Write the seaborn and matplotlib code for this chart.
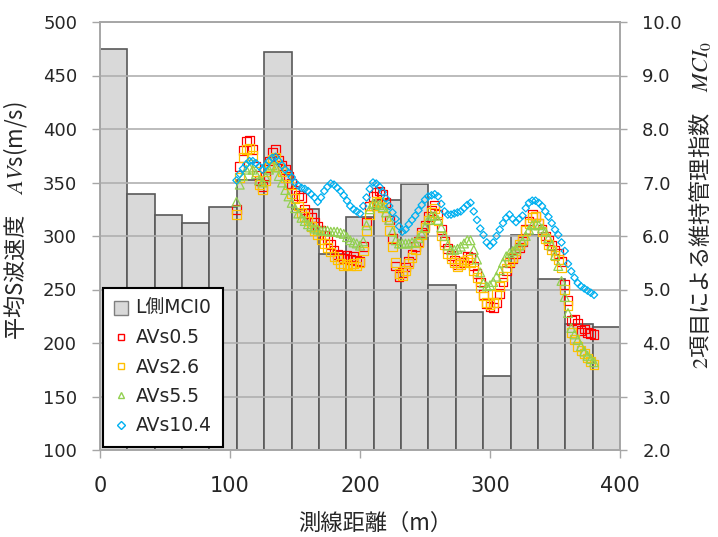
import numpy as np
import matplotlib
matplotlib.use("Agg")
import matplotlib.pyplot as plt
import seaborn as sns
from matplotlib.lines import Line2D

# L側 MCI0, 19 sections over 0-400 m (right axis)
mci = [9.50, 6.79, 6.39, 6.25, 6.54, 7.05, 9.44, 6.51, 5.67, 6.36,
       6.67, 6.97, 5.08, 4.58, 3.38, 6.02, 5.20, 4.36, 4.30]
edges = np.linspace(0, 400, len(mci) + 1)

# measuring points along the line (m)
dist = np.arange(105, 381, 2.5)

avs05 = [325, 365, 380, 388, 389, 381, 365, 352, 346, 356,
         370, 378, 381, 371, 366, 362, 356, 349, 343, 338,
         336, 325, 321, 317, 313, 309, 305, 301, 297, 292,
         287, 283, 282, 279, 282, 278, 281, 277, 276, 290,
         313, 328, 337, 341, 342, 339, 331, 315, 298, 272,
         262, 266, 271, 276, 283, 290, 295, 303, 310, 318,
         324, 329, 320, 306, 295, 288, 282, 277, 273, 275,
         276, 281, 280, 272, 265, 257, 245, 237, 234, 233,
         238, 246, 257, 268, 275, 279, 284, 289, 295, 306,
         314, 320, 318, 312, 306, 300, 296, 291, 287, 284,
         276, 255, 240, 221, 222, 218, 212, 213, 210, 209,
         208]
avs26 = [320, 355, 373, 381, 382, 375, 360, 348, 343, 352,
         365, 372, 373, 365, 360, 355, 348, 340, 335, 328,
         322, 318, 314, 309, 305, 301, 297, 293, 289, 285,
         281, 278, 274, 272, 273, 272, 274, 272, 275, 286,
         305, 320, 328, 332, 331, 327, 318, 305, 290, 275,
         265, 263, 268, 274, 280, 287, 294, 301, 308, 315,
         322, 326, 314, 300, 292, 284, 279, 275, 271, 273,
         276, 278, 275, 268, 261, 252, 244, 238, 236, 238,
         245, 253, 262, 270, 276, 280, 286, 292, 297, 305,
         312, 317, 318, 312, 304, 298, 292, 287, 282, 278,
         270, 250, 235, 210, 203, 197, 193, 190, 186, 183,
         180]
avs55 = [332, 348, 356, 362, 364, 362, 358, 352, 350, 355,
         362, 366, 364, 356, 350, 343, 337, 331, 326, 321,
         317, 314, 311, 309, 307, 306, 305, 305, 305, 304,
         304, 304, 303, 302, 299, 296, 294, 293, 291, 295,
         310, 325, 330, 330, 329, 327, 322, 315, 304, 296,
         293, 293, 293, 293, 294, 294, 298, 302, 308, 315,
         319, 319, 315, 308, 300, 291, 287, 287, 288, 290,
         293, 296, 296, 287, 278, 266, 256, 253, 254, 257,
         262, 268, 275, 281, 284, 286, 288, 291, 295, 300,
         306, 310, 311, 310, 307, 304, 298, 291, 282, 272,
         258, 243, 228, 214, 208, 203, 197, 192, 188, 185,
         182]
avs104 = [352, 358, 363, 367, 370, 370, 368, 365, 362, 366,
          370, 373, 374, 370, 366, 362, 359, 355, 350, 347,
          345, 344, 342, 339, 336, 332, 336, 342, 346, 349,
          348, 345, 342, 338, 333, 328, 325, 323, 321, 328,
          336, 344, 350, 349, 346, 341, 335, 328, 322, 316,
          309, 304, 306, 311, 315, 319, 324, 329, 334, 337,
          338, 339, 337, 330, 323, 320, 320, 321, 322, 323,
          326, 329, 331, 323, 315, 307, 301, 294, 291, 294,
          300, 306, 312, 317, 320, 316, 313, 316, 319, 326,
          331, 333, 333, 331, 328, 323, 318, 312, 306, 301,
          294, 286, 274, 267, 261, 256, 253, 251, 249, 247,
          245]

labels = ["AVs0.5", "AVs2.6", "AVs5.5", "AVs10.4"]
colors = ["#ff0000", "#ffc000", "#92d050", "#00b0f0"]
markers = ["s", "s", "^", "D"]
sizes = [40, 40, 40, 14]

sns.set_theme(style="white")
plt.rcParams['font.family'] = ['DejaVu Sans', 'Noto Sans CJK JP']
plt.rcParams['mathtext.fontset'] = 'stix'

fig = plt.figure(figsize=(7.18, 5.37), dpi=100)
ax = fig.add_axes([100/718, 87/537, 520/718, 428/537])
ax2 = ax.twinx()

ax2.bar(edges[:-1], mci, width=np.diff(edges), align='edge',
        color='#d9d9d9', edgecolor='#595959', linewidth=1.2)
ax2.set_ylim(2, 10)
ax2.set_yticks(np.arange(2, 10.01, 1))
ax2.set_yticklabels([f"{v:.1f}" for v in np.arange(2, 10.01, 1)])

for vals, lab, c, m, s in zip([avs05, avs26, avs55, avs104], labels, colors, markers, sizes):
    sns.scatterplot(x=dist, y=vals, ax=ax, marker=m, s=s, color=c,
                    facecolor='none', edgecolor=c, linewidth=0.9, legend=False)

ax.set_zorder(ax2.get_zorder() + 1)
ax.patch.set_visible(False)

ax.set_xlim(0, 400)
ax.set_ylim(100, 500)
ax.set_xticks([0, 100, 200, 300, 400])
ax.set_yticks(np.arange(100, 501, 50))
ax.yaxis.grid(True, color='#b0b0b0', linewidth=1.2)
ax.xaxis.grid(False)

for a in (ax, ax2):
    for sp in a.spines.values():
        sp.set_color('#a6a6a6')
        sp.set_linewidth(1.2)

ax.tick_params(axis='y', length=5.5, width=1, color='#a6a6a6', pad=11, labelsize=13, left=True)
ax.tick_params(axis='x', length=5.5, width=1, color='#a6a6a6', pad=13, labelsize=15, bottom=True)
ax2.tick_params(axis='y', length=5, width=1, color='#a6a6a6', pad=11, labelsize=13, right=True)

cjk = ['Noto Sans CJK JP', 'DejaVu Sans']
ax.set_xlabel("測線距離（m）", fontsize=16, family=cjk)
ax.xaxis.set_label_coords(0.53, -0.145)
ax.set_ylabel("平均S波速度　$\\mathit{AV}$s(m/s)", fontsize=16, family=cjk)
ax.yaxis.set_label_coords(-0.135, 0.537)
ax2.set_ylabel("$\\mathrm{2}$項目による維持管理指数　$\\mathit{MCI}_{\\mathit{0}}$",
               fontsize=16, family=cjk, rotation=90)
ax2.yaxis.set_label_coords(1.128, 0.572)

handles = [Line2D([], [], marker='s', ls='none', ms=10, mfc='#d9d9d9', mec='#7f7f7f', mew=1)]
for lab, c, m in zip(labels, colors, markers):
    handles.append(Line2D([], [], marker=m, ls='none', ms=5 if m != 'D' else 4.5,
                          mfc='none', mec=c, mew=1))
leg = ax.legend(handles, ["L側MCI0"] + labels, loc='lower left',
                bbox_to_anchor=(0.005, 0.008), borderaxespad=0, fontsize=13.5,
                frameon=True, fancybox=False, framealpha=1, edgecolor='black',
                handlelength=0.8, handletextpad=0.35, borderpad=0.6, labelspacing=0.55)
leg.get_frame().set_linewidth(1.5)

fig.savefig("out.png", dpi=100)
